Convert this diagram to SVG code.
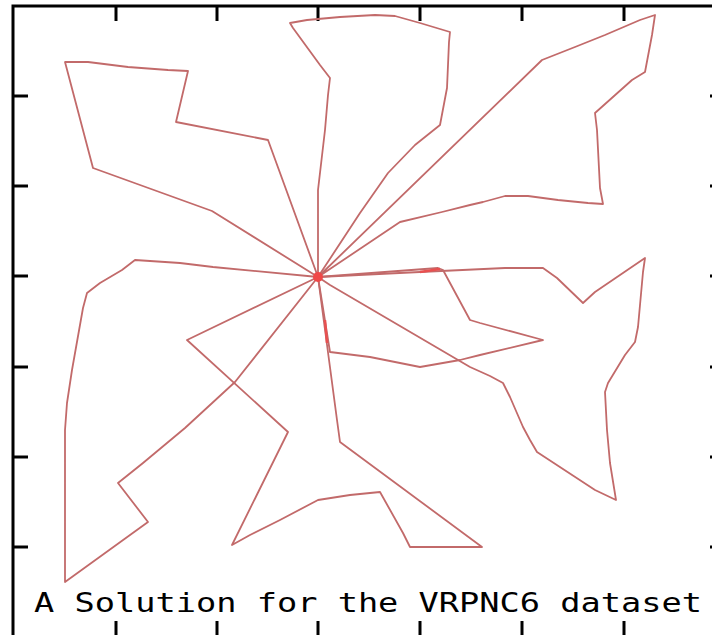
<svg xmlns="http://www.w3.org/2000/svg" width="712" height="635" viewBox="0 0 712 635">
<style>
.frame{fill:none;stroke:#000;stroke-width:3}
.tick{stroke:#000;stroke-width:3}
.route{fill:none;stroke:#c26a6a;stroke-width:1.8;stroke-linejoin:round;stroke-linecap:round}
.title{font-family:"DejaVu Sans Mono","Liberation Mono",monospace;font-size:26px;fill:#000}
</style>
<rect width="712" height="635" fill="#fff"/>
<g id="frame">
<rect class="frame" x="13" y="6" width="712" height="631"/>
<g id="ticks-top">
<line class="tick" x1="116" y1="6" x2="116" y2="21"/>
<line class="tick" x1="217" y1="6" x2="217" y2="21"/>
<line class="tick" x1="318" y1="6" x2="318" y2="21"/>
<line class="tick" x1="420" y1="6" x2="420" y2="21"/>
<line class="tick" x1="522" y1="6" x2="522" y2="21"/>
<line class="tick" x1="624" y1="6" x2="624" y2="21"/>
</g>
<g id="ticks-bottom">
<line class="tick" x1="116" y1="621" x2="116" y2="637"/>
<line class="tick" x1="217" y1="621" x2="217" y2="637"/>
<line class="tick" x1="318" y1="621" x2="318" y2="637"/>
<line class="tick" x1="420" y1="621" x2="420" y2="637"/>
<line class="tick" x1="522" y1="621" x2="522" y2="637"/>
<line class="tick" x1="624" y1="621" x2="624" y2="637"/>
</g>
<g id="ticks-left">
<line class="tick" x1="13" y1="96" x2="28" y2="96"/>
<line class="tick" x1="13" y1="186" x2="28" y2="186"/>
<line class="tick" x1="13" y1="276" x2="28" y2="276"/>
<line class="tick" x1="13" y1="367" x2="28" y2="367"/>
<line class="tick" x1="13" y1="457" x2="28" y2="457"/>
<line class="tick" x1="13" y1="547" x2="28" y2="547"/>
</g>
<g id="ticks-right">
<line class="tick" x1="710" y1="96" x2="725" y2="96"/>
<line class="tick" x1="710" y1="186" x2="725" y2="186"/>
<line class="tick" x1="710" y1="276" x2="725" y2="276"/>
<line class="tick" x1="710" y1="367" x2="725" y2="367"/>
<line class="tick" x1="710" y1="457" x2="725" y2="457"/>
<line class="tick" x1="710" y1="547" x2="725" y2="547"/>
</g>
</g>
<g id="routes">
<polyline id="route1" class="route" points="318,277 212,211 93,168 65,62 88,62 128,67 168,70 188,71 176,122 268,140 318,277"/>
<polyline id="route2" class="route" points="318,277 318,190 325,130 328,95 330,78 320,65 293,28 290,23 307,20 340,17 375,15 395,16 420,23 450,32 449,42 447,88 440,125 415,145 388,173 360,213 318,277"/>
<polyline id="route3" class="route" points="318,277 542,60 575,47 605,35 640,20 655,15 652,35 645,72 632,80 595,113 597,130 600,188 603,204 588,203 558,200 528,196 505,196 483,202 470,205 442,212 400,222 318,277"/>
<polyline id="route4" class="route" points="318,277 420,272 505,268 543,268 557,278 583,303 595,292 620,275 645,258 643,272 638,327 635,342 625,355 608,383 605,392 607,430 610,463 616,500 595,490 537,452 530,440 523,427 510,397 503,383 490,376 470,367 330,285 318,277"/>
<polyline id="route5" class="route" points="318,277 438,268 443,270 470,320 480,323 543,340 480,355 460,360 420,367 370,357 330,352 318,277"/>
<polyline id="route6" class="route" points="318,277 187,340 288,432 232,545 250,535 280,520 318,500 350,495 380,492 403,533 410,547 482,547 340,442 337,420 318,277"/>
<polyline id="route7" class="route" points="318,277 235,382 185,428 143,463 118,483 148,522 65,582 65,430 67,403 72,370 83,308 87,293 100,283 122,270 135,260 180,263 213,267 318,277"/>
<path d="M420,272 L440,269" fill="none" stroke="#e85050" stroke-width="2.4"/>
<path d="M325,320 L327,343" fill="none" stroke="#e85050" stroke-width="2.4"/>
</g>
<g id="depot">
<circle cx="318" cy="277" r="5" fill="#f04848"/>
</g>
<text class="title" x="34" y="612" textLength="668" lengthAdjust="spacingAndGlyphs">A Solution for the VRPNC6 dataset</text>
</svg>
